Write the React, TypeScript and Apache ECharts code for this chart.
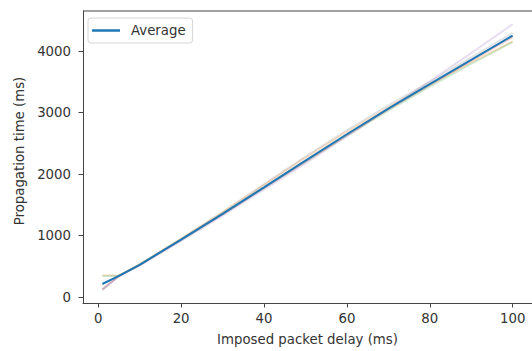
import React, { useEffect, useRef } from "react";
import * as echarts from "echarts";

const delays = [1, 5, 10, 20, 30, 40, 50, 60, 70, 80, 90, 100];
const average = [213, 345, 525, 935, 1355, 1785, 2220, 2650, 3065, 3465, 3860, 4256];
const runOrange = [355, 350, 535, 950, 1385, 1825, 2270, 2690, 3085, 3460, 3820, 4160];
const runGreen = [345, 345, 530, 935, 1350, 1780, 2205, 2625, 3035, 3425, 3795, 4150];
const runRed = [130, 340, 520, 930, 1345, 1775, 2205, 2635, 3055, 3450, 3845, 4230];
const runPurple = [115, 345, 515, 915, 1325, 1750, 2175, 2615, 3065, 3510, 3970, 4440];
const runGray = [120, 345, 525, 945, 1380, 1835, 2285, 2715, 3120, 3500, 3900, 4300];
const xTicks = [0, 20, 40, 60, 80, 100];
const yTicks = [0, 1000, 2000, 3000, 4000];

const runs = [
  { data: runOrange, color: "#ff7f0e" },
  { data: runGreen, color: "#2ca02c" },
  { data: runRed, color: "#d62728" },
  { data: runPurple, color: "#9467bd" },
  { data: runGray, color: "#7f7f7f" },
];

const FONT = "DejaVu Sans";
const TXT = "#333333";
const SPINE = "#444444";

export default function App() {
  const ref = useRef<HTMLDivElement>(null);
  useEffect(() => {
    if (!ref.current) return;
    const chart = echarts.init(ref.current, undefined, { renderer: "svg" });
    const pair = (arr: number[]) => delays.map((d, i) => [d, arr[i]]);
    const series: any[] = runs.map((r) => ({
      type: "line",
      data: pair(r.data),
      showSymbol: false,
      symbol: "none",
      lineStyle: { color: r.color, width: 2, opacity: 0.22 },
      silent: true,
      z: 1,
    }));
    series.push({
      name: "Average",
      type: "line",
      data: pair(average),
      showSymbol: false,
      symbol: "none",
      color: "#1f77b4",
      lineStyle: { color: "#1f77b4", width: 2 },
      z: 3,
    });
    chart.setOption({
      animation: false,
      backgroundColor: "#ffffff",
      grid: { left: 83, top: 11, width: 451.4, bottom: 44, containLabel: false },
      legend: {
        data: ["Average"],
        left: 88,
        top: 18,
        icon: "rect",
        itemWidth: 28,
        itemHeight: 2.5,
        itemGap: 8,
        padding: [6, 7, 6, 4],
        borderColor: "#d6d6d6",
        borderWidth: 1,
        borderRadius: 3,
        textStyle: { fontFamily: FONT, fontSize: 13.3, color: TXT, padding: [0, 0, 0, 6] },
      },
      xAxis: {
        type: "value",
        min: -3.67,
        max: 104.67,
        name: "Imposed packet delay (ms)",
        nameLocation: "middle",
        nameGap: 30,
        nameTextStyle: { fontFamily: FONT, fontSize: 13.3, color: TXT },
        splitLine: { show: false },
        axisLine: { show: true, onZero: false, lineStyle: { color: SPINE, width: 1 } },
        axisTick: { show: true, length: 4.5, lineStyle: { color: SPINE, width: 1 }, customValues: xTicks },
        axisLabel: {
          fontFamily: FONT,
          fontSize: 13.3,
          color: TXT,
          margin: 9,
          customValues: xTicks,
          formatter: (v: number) => String(v),
        },
      },
      yAxis: {
        type: "value",
        min: -96,
        max: 4655,
        name: "Propagation time (ms)",
        nameLocation: "middle",
        nameGap: 54,
        nameRotate: 90,
        nameTextStyle: { fontFamily: FONT, fontSize: 13.3, color: TXT, padding: [0, 0, 0, 12] },
        splitLine: { show: false },
        axisLine: { show: true, onZero: false, lineStyle: { color: SPINE, width: 1 } },
        axisTick: { show: true, length: 4.5, lineStyle: { color: SPINE, width: 1 }, customValues: yTicks },
        axisLabel: {
          fontFamily: FONT,
          fontSize: 13.3,
          color: TXT,
          margin: 12,
          customValues: yTicks,
          formatter: (v: number) => String(v),
        },
      },
      graphic: [
        {
          type: "line",
          shape: { x1: 83, y1: 11, x2: 532, y2: 11 },
          style: { stroke: SPINE, lineWidth: 1 },
          z: 10,
        },
      ],
      series,
    });
    return () => chart.dispose();
  }, []);
  return (
    <div
      ref={ref}
      style={{ position: "fixed", left: 0, top: 0, width: 532, height: 351, background: "#fff" }}
    />
  );
}
